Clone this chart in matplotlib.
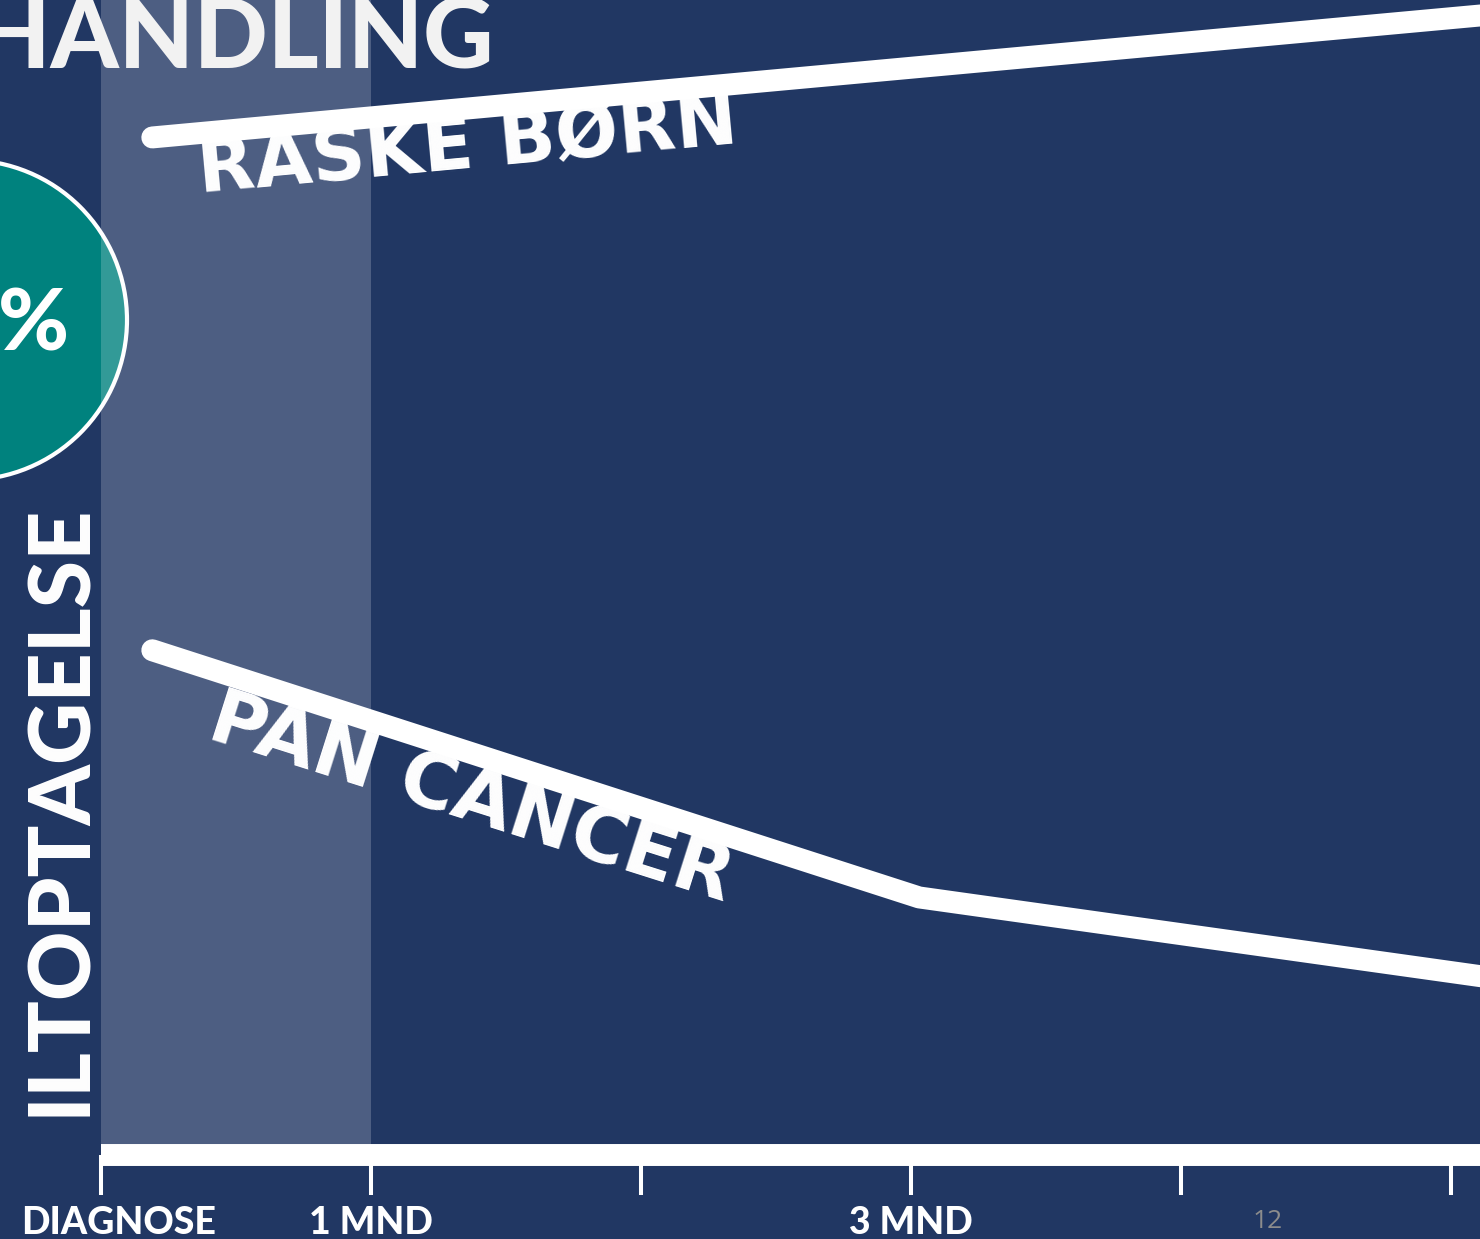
import matplotlib
matplotlib.use("Agg")
import matplotlib.pyplot as plt
import matplotlib.transforms as mtransforms
from matplotlib.patches import Circle

# data (months since diagnosis, oxygen uptake in arbitrary units)
raske_x = [0.19, 5.5]
raske_y = [88.1, 99.5]
pan_x = [0.19, 3.03, 5.5]
pan_y = [43.7, 22.3, 14.2]
tick_pos = [0, 1, 2, 3, 4, 5]
tick_labels = ['DIAGNOSE', '1 MND', '', '3 MND', '', '']

navy = '#213763'
teal = '#00827e'
W, H = 1480, 1239
px_month = 270.0

plt.rcParams['font.family'] = ['Lato', 'DejaVu Sans']

fig = plt.figure(figsize=(W / 100, H / 100), dpi=100, facecolor=navy)
ax = fig.add_axes([101 / W, (H - 1155) / H, 1 - 101 / W, 1155 / H])
ax.set_facecolor('none')

# teal circle sticking in from the left
circ = Circle((-0.33, (H - 320) / 100), 1.60, transform=fig.dpi_scale_trans,
              facecolor=teal, edgecolor='white', linewidth=3, zorder=-1)
fig.patches.append(circ)
fig.text(70 / W, 1 - 350 / H, '40%', color='white', fontsize=62,
         fontweight='black', ha='right', va='baseline', zorder=-1)

# first month highlighted
ax.axvspan(0, 1, color='white', alpha=0.2, lw=0, zorder=0)

ax.plot(raske_x, raske_y, color='white', lw=15.8, solid_capstyle='round', zorder=2)
ax.plot(pan_x, pan_y, color='white', lw=15.8, solid_capstyle='round',
        solid_joinstyle='round', zorder=2)

ax.text(0.367, 83.3, 'RASKE BØRN', color='white', fontsize=53.5, fontweight='bold',
        family='DejaVu Sans', rotation=5.3, rotation_mode='anchor',
        ha='left', va='baseline', zorder=3)
ax.text(0.385, 36.2, 'PAN CANCER', color='white', fontsize=55, fontweight='bold',
        family='DejaVu Sans', rotation=-17.6, rotation_mode='anchor',
        ha='left', va='baseline', zorder=3)

ax.set_xlim(0, (W - 101) / px_month)
ax.set_ylim(0, 100)
for s in ['top', 'right', 'left']:
    ax.spines[s].set_visible(False)
ax.spines['bottom'].set_color('white')
ax.spines['bottom'].set_linewidth(15.8)
ax.spines['bottom'].set_capstyle('butt')
ax.set_yticks([])
ax.set_xticks(tick_pos)
ax.set_xticklabels(tick_labels)
ax.tick_params(axis='x', colors='white', length=29, width=2.9, pad=8,
               labelsize=27)
for lbl in ax.get_xticklabels():
    lbl.set_fontweight('black')
# DIAGNOSE sits a little right of its tick
shift = mtransforms.ScaledTranslation(18 / 100, 0, fig.dpi_scale_trans)
first = ax.get_xticklabels()[0]
first.set_transform(first.get_transform() + shift)

fig.text(85 / W, 1 - 810 / H, 'ILTOPTAGELSE', color='white', fontsize=62,
         fontweight='black', rotation=90, rotation_mode='anchor',
         ha='center', va='baseline')
fig.text(494 / W, 1 - 68 / H, 'BEHANDLING', color='#f2f2f2', fontsize=70,
         fontweight='black', ha='right', va='baseline')
fig.text(1268 / W, 1 - 1222 / H, '12', color='#8c8c8c', fontsize=19,
         ha='center', va='center', family='Open Sans')

fig.savefig('out.png', dpi=100, facecolor=navy)
